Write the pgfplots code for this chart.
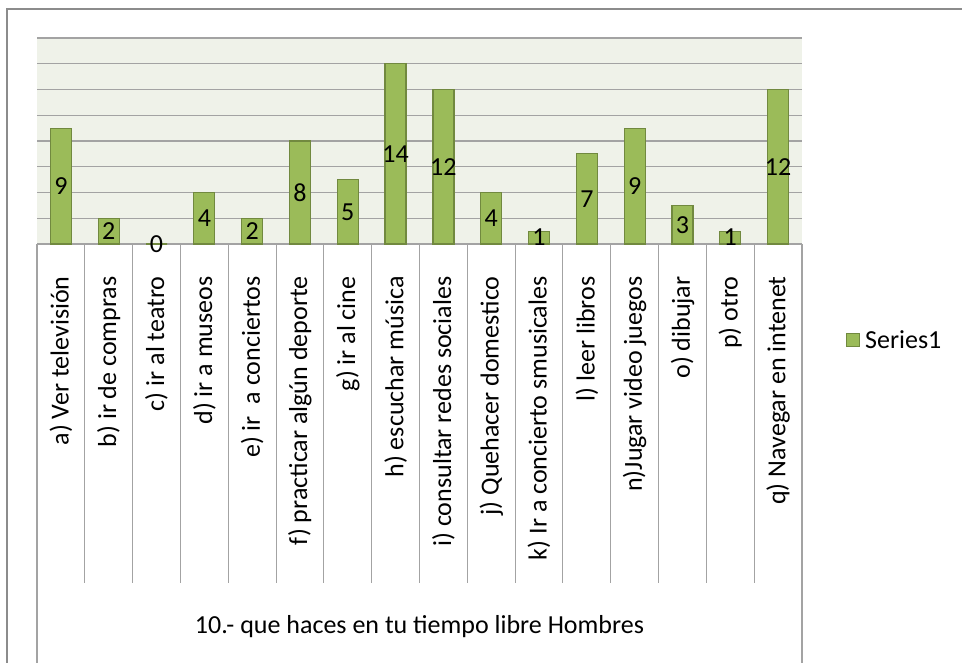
\documentclass[border=0pt]{standalone}
\usepackage{fontspec}
\setmainfont{Carlito}
\usepackage{pgfplots}
\pgfplotsset{compat=1.18}
\definecolor{barfill}{HTML}{9BBB59}
\definecolor{baredge}{HTML}{71893F}
\definecolor{plotbg}{HTML}{EFF2E9}
\definecolor{gridc}{HTML}{A3A3A3}
\definecolor{framec}{HTML}{8C8C8C}
\newcommand{\chartfont}{\fontsize{26}{31}\selectfont}
\begin{document}
\begin{tikzpicture}[x=1pt,y=1pt]
\path[use as bounding box] (0,0) rectangle (962,663);
\draw[framec, line width=2pt] (7,-5) -- (7,654) -- (970,654);
\begin{axis}[
  at={(37pt,419pt)}, anchor=south west,
  scale only axis, width=765pt, height=206pt,
  xmin=-0.5, xmax=15.5, ymin=0, ymax=16,
  clip=false,
  axis background/.style={fill=plotbg},
  axis line style={draw=none},
  tick style={draw=none},
  ytick={0,2,...,16}, yticklabels={,,,,,,,,},
  ymajorgrids, major grid style={gridc, line width=1.1pt},
  xtick={0,...,15},
  xticklabels={a) Ver televisión, b) ir de compras, c) ir al teatro, d) ir a museos,
    e) ir\ \ a conciertos, f) practicar algún deporte, g) ir al cine, h) escuchar música,
    i) consultar redes sociales, j) Quehacer domestico, k) Ir a concierto smusicales,
    l) leer libros, n)Jugar video juegos, o) dibujar, p) otro, q) Navegar en intenet},
  xticklabel style={rotate=90, anchor=east, inner sep=0pt, font=\chartfont},
  xticklabel shift=28pt,
  xlabel={10.- que haces en tu tiempo libre Hombres},
  xlabel style={at={(axis description cs:0.5,-1.859)}, anchor=center, font=\chartfont},
  ybar, bar width=21pt,
  /pgf/number format/assume math mode=true,
  nodes near coords,
  visualization depends on=y \as \rawy,
  every node near coord/.append style={anchor=center, font=\chartfont, text=black,
    shift={(axis direction cs:0,-\rawy/2)}},
  legend style={draw=none, fill=none, at={(1.0536,-0.466)}, anchor=west,
    font=\chartfont, nodes={inner sep=2pt}},
  legend image code/.code={\draw[#1, line width=0.8pt] (0pt,-6.5pt) rectangle (13pt,6.5pt);
    \path (16pt,0pt);},
]
\addplot[fill=barfill, draw=baredge, line width=1.2pt] coordinates {
  (0,9) (1,2) (2,0) (3,4) (4,2) (5,8) (6,5) (7,14)
  (8,12) (9,4) (10,1) (11,7) (12,9) (13,3) (14,1) (15,12)
};
\legend{Series1}
\pgfplotsinvokeforeach{0.5,1.5,...,14.5}{
  \draw[gridc, line width=1.1pt] (axis cs:#1,0) -- ++(0pt,-339pt);
}
\draw[gridc, line width=1.1pt] (axis cs:-0.5,0) -- ++(0pt,-430pt);
\draw[gridc, line width=1.1pt] (axis cs:15.5,0) -- ++(0pt,-430pt);
\end{axis}
\end{tikzpicture}
\end{document}
